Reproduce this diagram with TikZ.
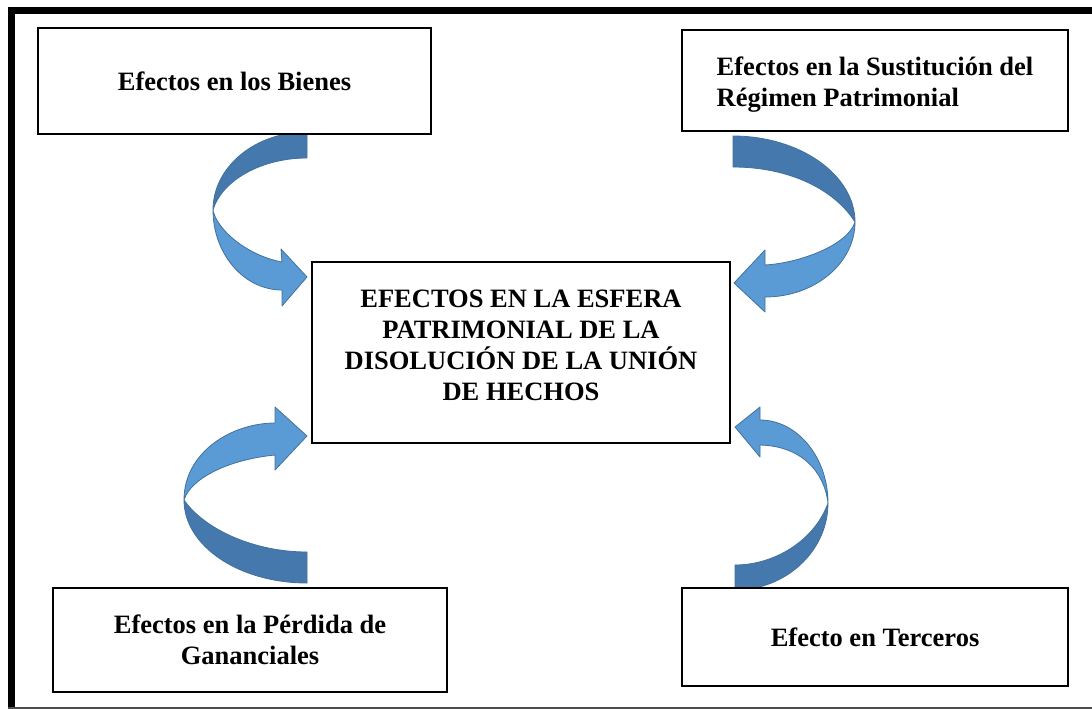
\documentclass[tikz,border=0pt]{standalone}
\usepackage{fontspec}
\setmainfont{Liberation Serif}
\definecolor{arrdark}{RGB}{69,120,172}
\definecolor{arrlight}{RGB}{91,155,213}
\definecolor{arredge}{RGB}{65,113,156}
\tikzset{
  boxnode/.style={draw=black, line width=1.2pt, fill=white, inner sep=0pt,
    font=\fontsize{26.5}{31}\selectfont\bfseries, align=center},
  txtnode/.style={inner sep=0pt, font=\fontsize{26.5}{31}\selectfont\bfseries, align=center},
  darkpart/.style={fill=arrdark, draw=arredge, line width=0.8pt, line join=round},
  lightpart/.style={fill=arrlight, draw=arredge, line width=0.8pt, line join=round}
}
\begin{document}
\begin{tikzpicture}[x=1pt, y=-1pt]
\useasboundingbox (0,0) rectangle (1092,709);
% outer frame
\fill[black] (8,7) rectangle (1092,14);
\fill[black] (8,7) rectangle (15,709);
\draw[black!70, line width=1.5pt] (8,708) -- (1092,708);

% curved arrows
% top-left
\path[darkpart] (307,132) .. controls (255,132) and (213,167) .. (213,210)
  .. controls (222,180) and (262,158) .. (307,158) -- cycle;
\path[lightpart] (213,210) .. controls (213,254) and (244,290) .. (282,290)
  -- (282,306) -- (307,277) -- (281,249) -- (282,262)
  .. controls (245,255) and (216,228) .. (213,210) -- cycle;
% top-right
\path[darkpart] (733,136) .. controls (800,136) and (855,175) .. (855,222)
  .. controls (835,190) and (790,167) .. (733,167) -- cycle;
\path[lightpart] (855,222) .. controls (855,263) and (815,297) .. (765,297)
  -- (765,312) -- (734,283) -- (765,250) -- (765,265)
  .. controls (800,263) and (848,245) .. (855,222) -- cycle;
% bottom-left
\path[darkpart] (307,583) .. controls (239,583) and (184,546) .. (184,500)
  .. controls (205,530) and (255,552) .. (307,552) -- cycle;
\path[lightpart] (184,500) .. controls (184,452) and (232,423) .. (275,423)
  -- (275,407) -- (307,436) -- (275,470) -- (275,455)
  .. controls (225,460) and (190,480) .. (184,500) -- cycle;
% bottom-right
\path[darkpart] (735,590) .. controls (786,590) and (828,551) .. (828,503)
  .. controls (815,540) and (775,565) .. (735,565) -- cycle;
\path[lightpart] (828,503) .. controls (828,457) and (797,420) .. (760,420)
  -- (760,407) -- (735,427) -- (760,457) -- (760,445)
  .. controls (800,446) and (824,470) .. (828,503) -- cycle;

% boxes
\node[boxnode, minimum width=393pt, minimum height=106pt] (bienes) at (234.5,81) {Efectos en los Bienes};
\node[boxnode, minimum width=386pt, minimum height=101pt] (sustitucion) at (875,80.5) {};
\node[txtnode, align=left] (sustituciontxt) at (875,85)
  {Efectos en la Sustitución del\\Régimen Patrimonial};
\node[boxnode, minimum width=418pt, minimum height=181pt] (centro) at (521,352.5) {};
\node[txtnode] (centrotxt) at (521,345)
  {EFECTOS EN LA ESFERA\\PATRIMONIAL DE LA\\DISOLUCIÓN DE LA UNIÓN\\DE HECHOS};
\node[boxnode, minimum width=394pt, minimum height=104pt] (perdida) at (250,640)
  {Efectos en la Pérdida de\\Gananciales};
\node[boxnode, minimum width=386pt, minimum height=98pt] (terceros) at (875,637) {Efecto en Terceros};
\end{tikzpicture}
\end{document}
